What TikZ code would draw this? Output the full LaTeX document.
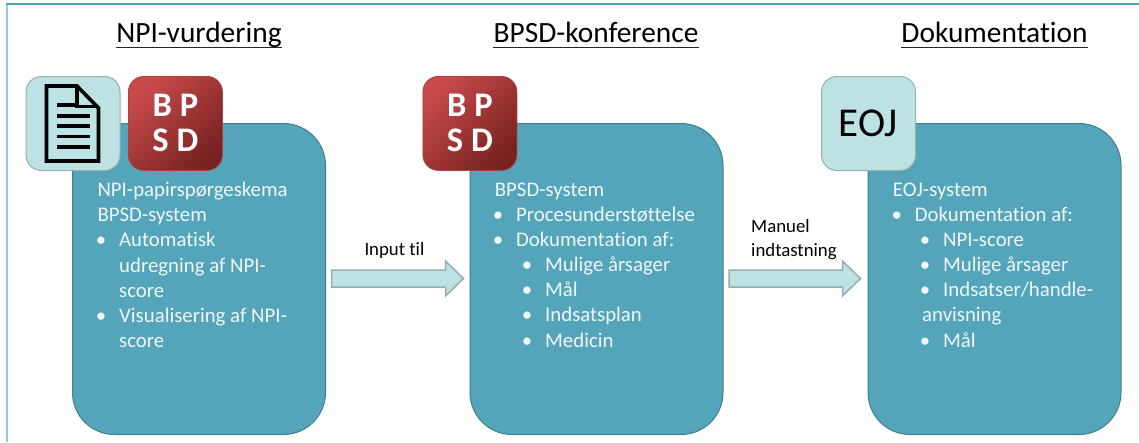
\documentclass[tikz,border=0pt]{standalone}
\usepackage{fontspec}
\setmainfont{Carlito}[Ligatures=NoCommon]
\definecolor{boxfill}{HTML}{54A5BA}
\definecolor{boxline}{HTML}{417F90}
\definecolor{palefill}{HTML}{BDE2E3}
\definecolor{paleline}{HTML}{95AEAE}
\definecolor{frametop}{HTML}{4FA2B8}
\definecolor{frameleft}{HTML}{92CDDC}
\definecolor{bodytext}{HTML}{F0F7F9}
\definecolor{redlight}{HTML}{C84A4A}
\definecolor{reddark}{HTML}{782222}
\newcommand\bul{\llap{•\kern 13pt}}
\newcommand\redlabel{\raisebox{1.6pt}{B P}\\[0pt]\raisebox{1.6pt}{S D}}
\newcommand\blockarrow[2]{%
  \draw[arrowbody] ($(#1)+(0,-8.5)$) -- ($(#2)+(-18,-8.5)$) -- ($(#2)+(-18,-17.5)$) -- (#2)
    -- ($(#2)+(-18,17.5)$) -- ($(#2)+(-18,8.5)$) -- ($(#1)+(0,8.5)$) -- cycle;}
\usetikzlibrary{calc}
\tikzset{
  bigbox/.style={draw=boxline,line width=1pt,fill=boxfill,rounded corners=42pt,
    minimum width=253pt,minimum height=311pt,inner sep=0pt,anchor=north west},
  icon/.style={rounded corners=15.5pt,minimum width=94pt,minimum height=94pt,inner sep=0pt,anchor=north west},
  paleicon/.style={icon,draw=paleline,line width=1pt,fill=palefill},
  redicon/.style={icon,draw=redlight!70!reddark,line width=.8pt,top color=redlight,bottom color=reddark,shading angle=45,
    text=white,font=\fontsize{34.5}{34.5}\selectfont\bfseries,align=center},
  arrowbody/.style={draw=paleline,line width=1.5pt,fill=palefill,line join=miter},
  heading/.style={font=\fontsize{29.4}{30}\selectfont,anchor=base,inner sep=0pt,text=black},
  bodyline/.style={font=\fontsize{20.8}{22}\selectfont,anchor=base west,inner sep=0pt,text=bodytext},
  arrowlabel/.style={font=\fontsize{18.8}{22}\selectfont,anchor=base west,inner sep=0pt,text=black},
  docline/.style={line width=3.6pt,draw=black},
}
\begin{document}
\begin{tikzpicture}[x=1pt,y=-1pt]
\useasboundingbox (0,0) rectangle (1139,442);
% frame
\fill[frameleft] (6,3) rectangle (8,442);
\fill[frametop] (6,3) rectangle (1139,5.2);
% headings
\node[heading] (h1) at (199,42) {NPI-vurdering};
\node[heading] (h2) at (596,42) {BPSD-konference};
\node[heading] (h3) at (994.5,42) {Dokumentation};
\foreach \h in {h1,h2,h3}{\draw[line width=1.3pt,black!85] (\h.base west)++(0,5.6) -- ($(\h.base east)+(0,5.6)$);}
% big boxes
\node[bigbox] (b1) at (72,123) {};
\node[bigbox] (b2) at (469.5,123) {};
\node[bigbox] (b3) at (867.5,123) {};
% icons
\node[paleicon] (doc) at (25.5,76) {};
\node[redicon] (r1) at (128,76) {\redlabel};
\node[redicon] (r2) at (422.5,76) {\redlabel};
\node[paleicon,font=\fontsize{41}{42}\selectfont] (eoj) at (821,76) {EOJ};
% document glyph
\draw[docline,line join=miter] (46.5,86) -- (77,86) -- (98.5,108) -- (98.5,161) -- (46.5,161) -- cycle;
\draw[docline,line join=miter] (77,86) -- (77,106.5) -- (98.5,106.5);
\draw[docline] (57,105) -- (77,105);
\draw[docline] (57,116) -- (89.5,116);
\draw[docline] (57,126) -- (89.5,126);
\draw[docline] (57,136.5) -- (89.5,136.5);
\draw[docline] (57,147) -- (89.5,147);
% box 1 text
\node[bodyline] (t11) at (97.3,196.7) {NPI-papirspørgeskema};
\node[bodyline] (t12) at (97.3,221.8) {BPSD-system};
\node[bodyline] (t13) at (119,246.9) {\bul Automatisk};
\node[bodyline] (t14) at (119,272) {udregning af NPI-};
\node[bodyline] (t15) at (119,297.1) {score};
\node[bodyline] (t16) at (119,322.2) {\bul Visualisering af NPI-};
\node[bodyline] (t17) at (119,347.4) {score};
% box 2 text
\node[bodyline] (t21) at (494.7,196) {BPSD-system};
\node[bodyline] (t22) at (516,221) {\bul Procesunderstøttelse};
\node[bodyline] (t23) at (516,246.2) {\bul Dokumentation af:};
\node[bodyline] (t24) at (545,271.4) {\bul Mulige årsager};
\node[bodyline] (t25) at (545,296.6) {\bul Mål};
\node[bodyline] (t26) at (545,321.8) {\bul Indsatsplan};
\node[bodyline] (t27) at (545,347) {\bul Medicin};
% box 3 text
\node[bodyline] (t31) at (892.7,196) {EOJ-system};
\node[bodyline] (t32) at (914.7,221) {\bul Dokumentation af:};
\node[bodyline] (t33) at (943,246.2) {\bul NPI-score};
\node[bodyline] (t34) at (943,271.4) {\bul Mulige årsager};
\node[bodyline] (t35) at (943,296.6) {\bul Indsatser/handle-};
\node[bodyline] (t36) at (922,321.8) {anvisning};
\node[bodyline] (t37) at (943,347) {\bul Mål};
% arrows
\coordinate (a1s) at (331.5,278.5);
\coordinate (a1e) at (463.5,278.5);
\coordinate (a2s) at (729,278.5);
\coordinate (a2e) at (860.5,278.5);
\blockarrow{a1s}{a1e}
\blockarrow{a2s}{a2e}
\node[arrowlabel] (l1) at (364.3,255) {Input til};
\node[arrowlabel] (l2) at (751,232) {Manuel};
\node[arrowlabel] (l3) at (751,256) {indtastning};
\end{tikzpicture}
\end{document}
